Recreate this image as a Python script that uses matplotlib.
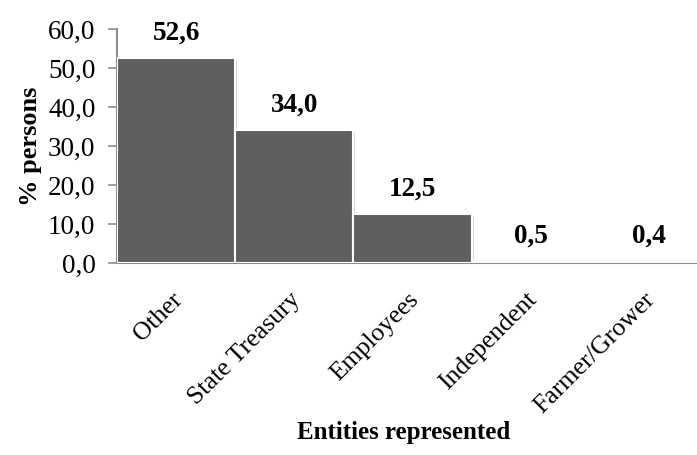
import matplotlib
matplotlib.use("Agg")
import matplotlib.pyplot as plt
import matplotlib.patheffects as pe
from matplotlib.transforms import ScaledTranslation

categories = ["Other", "State Treasury", "Employees", "Independent", "Farmer/Grower"]
values = [52.6, 34.0, 12.5, 0.5, 0.4]
yticks = [0, 10, 20, 30, 40, 50, 60]

plt.rcParams["font.family"] = ["Liberation Serif", "DejaVu Serif"]

W, H = 697, 455
fig = plt.figure(figsize=(W / 100, H / 100), dpi=100)
ax = fig.add_axes([117 / W, 192 / H, 591 / W, 234 / H])

x = list(range(len(categories)))
bars = ax.bar(x, values, width=1.0, color="#5f5f5f", edgecolor="white", linewidth=1.5,
              zorder=3)
for b in bars:
    b.set_path_effects([pe.SimplePatchShadow(offset=(1.5, -1.5), shadow_rgbFace="#bdbdbd", alpha=0.6),
                        pe.Normal()])

ax.set_xlim(-0.5, len(categories) - 0.5)
ax.set_ylim(0, 60)
ax.set_yticks(yticks)
ax.set_yticklabels([f"{v:.1f}".replace(".", ",") for v in yticks], fontsize=19.5)

ax.set_xticks(x)
ax.set_xticklabels(categories, rotation=45, ha="right", rotation_mode="anchor", fontsize=18.5)
ax.tick_params(axis="x", length=0, pad=17)
ax.tick_params(axis="y", length=6.5, width=1.2, color="#8c8c8c", pad=9)
shift = ScaledTranslation(-5 / 100, -2 / 100, fig.dpi_scale_trans)
for lbl in ax.get_xticklabels():
    lbl.set_transform(lbl.get_transform() + shift)

for s in ["top", "right"]:
    ax.spines[s].set_visible(False)
for s in ["left", "bottom"]:
    ax.spines[s].set_color("#8c8c8c")
    ax.spines[s].set_linewidth(1.5)

for xi, v in zip(x, values):
    ax.annotate(f"{v:.1f}".replace(".", ","), (xi, v), xytext=(0, 9), textcoords="offset points",
                ha="center", va="bottom", fontsize=19.5, fontweight="bold")

ax.set_ylabel("% persons", fontsize=19, fontweight="bold", labelpad=4)
fig.text(404 / W, 1 - 432 / H, "Entities represented", ha="center", va="center",
         fontsize=18, fontweight="bold")

fig.savefig("out.png", dpi=100)
